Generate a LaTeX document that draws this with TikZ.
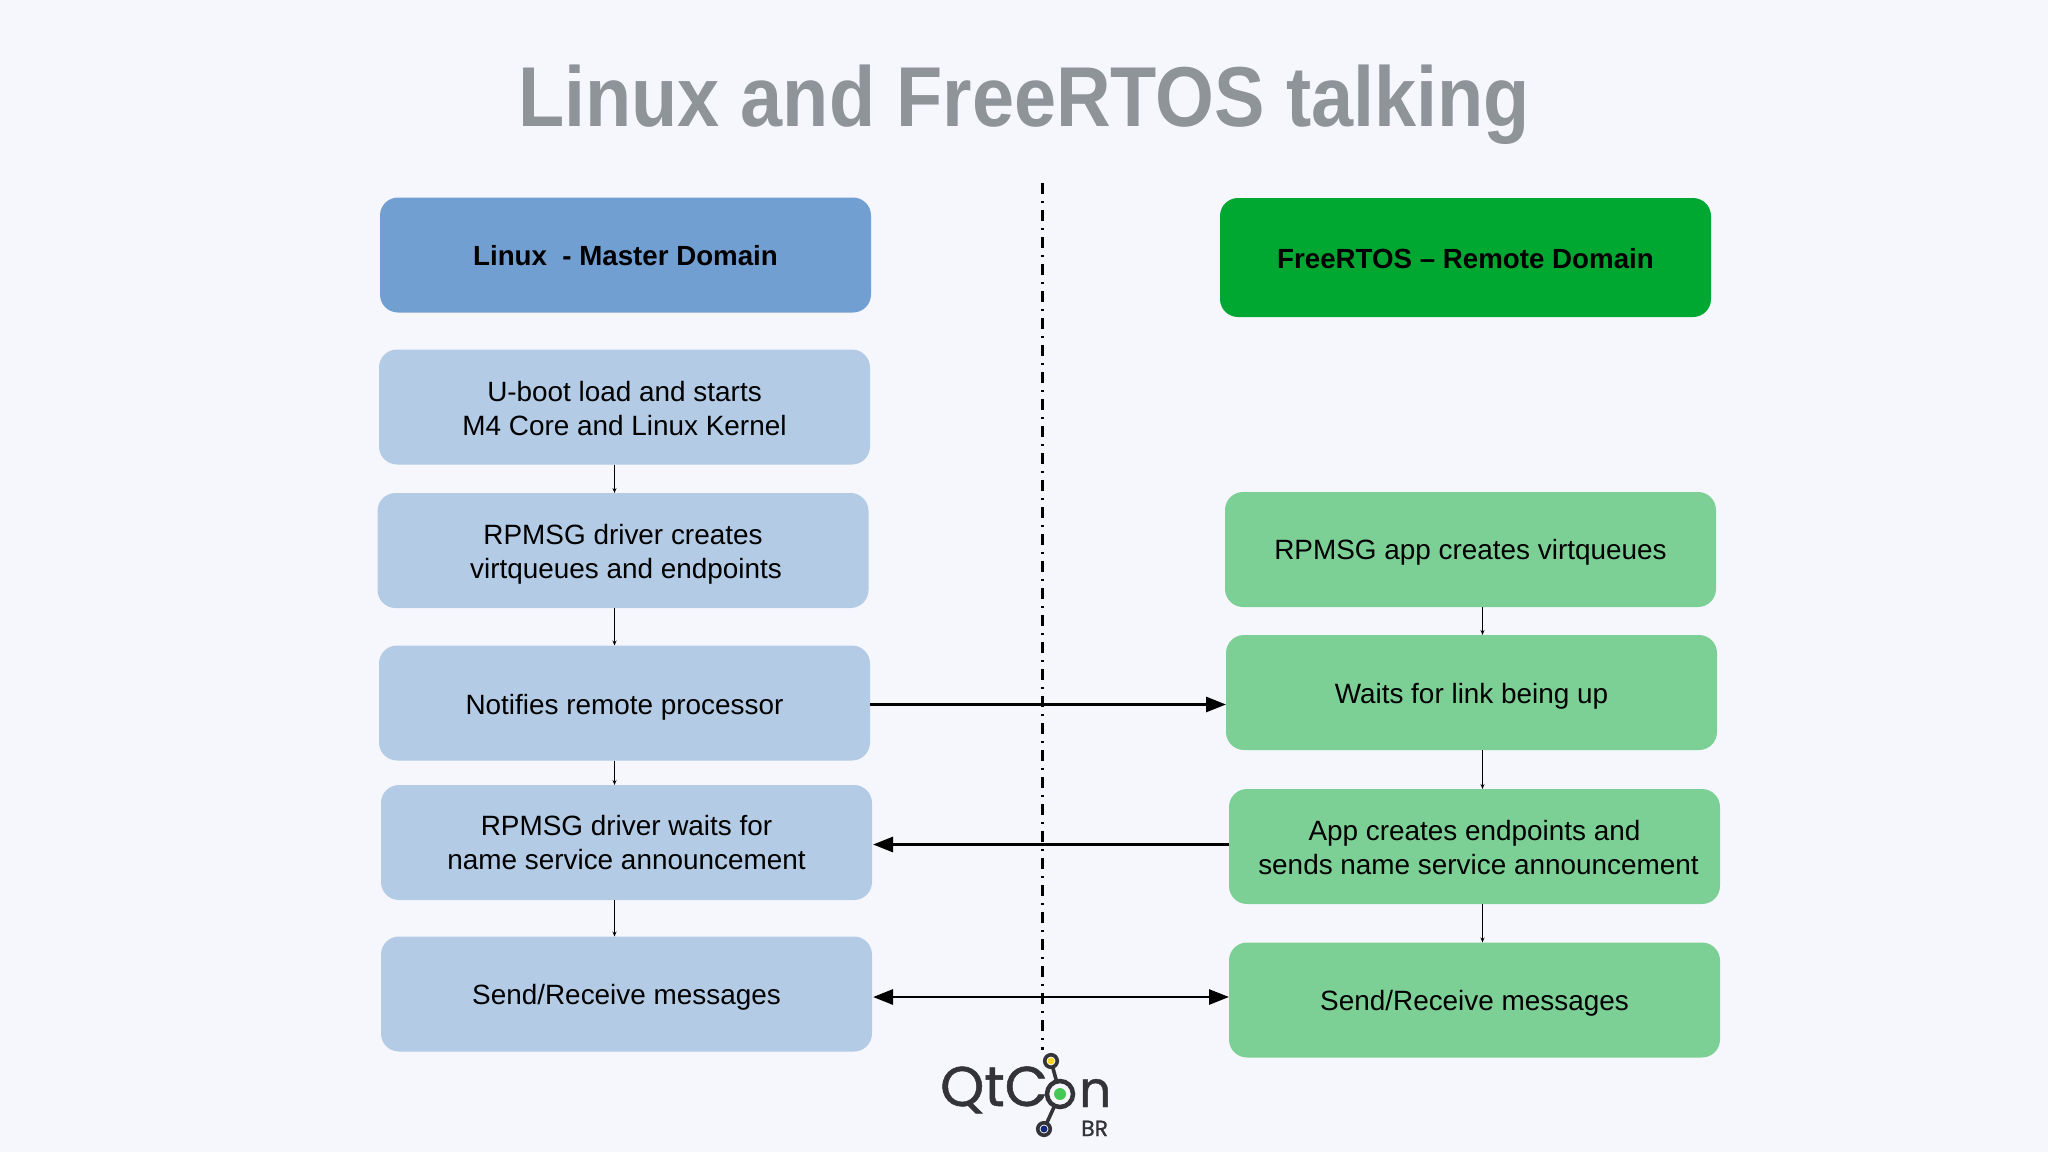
\documentclass[tikz,border=0pt]{standalone}
\usepackage{fontspec}
\setmainfont{Liberation Sans}
\newfontfamily\titlefont[FakeStretch=0.89]{Liberation Sans}
\newfontfamily\logofont[FakeBold=0.9]{Poppins}
\usetikzlibrary{arrows.meta}
\definecolor{pagebg}{RGB}{246,247,253}
\definecolor{titlegray}{RGB}{143,148,153}
\definecolor{linuxhead}{RGB}{114,159,210}
\definecolor{linuxbox}{RGB}{179,203,229}
\definecolor{rtoshead}{RGB}{0,168,50}
\definecolor{rtosbox}{RGB}{125,208,149}
\definecolor{logodark}{RGB}{51,51,56}
\definecolor{logoyellow}{RGB}{248,214,40}
\definecolor{logonavy}{RGB}{20,40,120}
\definecolor{logogreen}{RGB}{70,200,85}
\newcommand{\lowtext}[2][4pt]{\raisebox{-#1}[\height][\depth]{\begin{tabular}{@{}c@{}}#2\end{tabular}}}
\tikzset{
	stagebox/.style={rounded corners=18pt, minimum width=491pt, minimum height=115pt, inner sep=0pt, outer sep=0pt, align=center, text=black, font=\fontsize{27.9}{34}\selectfont},
	headbox/.style={stagebox, font=\fontsize{27.7}{34}\selectfont\bfseries},
	msgline/.style={line width=2.8pt, -{Triangle[length=20pt,width=15pt]}},
	twoline/.style={line width=2.8pt, {Triangle[length=20pt,width=15pt]}-{Triangle[length=20pt,width=15pt]}},
	stepline/.style={line width=0.9pt, -{Stealth[length=5pt,width=4pt]}},
	ring/.style={circle, draw=logodark, line width=3.6pt, fill=pagebg, inner sep=0pt, outer sep=0pt},
	dot/.style={circle, inner sep=0pt, minimum size=7pt}
}
\begin{document}
\begin{tikzpicture}[x=1pt, y=-1pt]
	\fill[pagebg] (0,0) rectangle (2048,1152);
	\useasboundingbox (0,0) rectangle (2048,1152);

	\node[anchor=base, text=titlegray, font=\fontsize{85}{100}\selectfont\titlefont\bfseries] (title) at (1024,126) {Linux and FreeRTOS talking};

	% left column
	\node[headbox, fill=linuxhead] (linuxhdr) at (625.5,255) {\lowtext{Linux\ \ - Master Domain}};
	\node[stagebox, fill=linuxbox] (uboot) at (624.5,407) {\lowtext[4.5pt]{U-boot load and starts\\M4 Core and Linux Kernel}};
	\node[stagebox, fill=linuxbox] (rpdrv) at (623,550.5) {\lowtext{RPMSG driver creates\\\hspace*{6pt}virtqueues and endpoints}};
	\node[stagebox, fill=linuxbox] (notify) at (624.5,703) {\lowtext[4.5pt]{Notifies remote processor}};
	\node[stagebox, fill=linuxbox] (waitns) at (626.5,842.5) {RPMSG driver waits for\\name service announcement};
	\node[stagebox, fill=linuxbox] (sendl) at (626.5,994) {\lowtext[3.3pt]{Send/Receive messages}};

	% right column
	\node[headbox, fill=rtoshead, minimum height=119pt] (rtoshdr) at (1465.5,257.5) {\lowtext{FreeRTOS -- Remote Domain}};
	\node[stagebox, fill=rtosbox] (rpapp) at (1470.5,549.5) {\lowtext[3.3pt]{RPMSG app creates virtqueues}};
	\node[stagebox, fill=rtosbox] (linkup) at (1471.5,692.5) {\lowtext{Waits for link being up}};
	\node[stagebox, fill=rtosbox] (appep) at (1474.5,846.5) {\lowtext{App creates endpoints and\\\hspace*{8pt}sends name service announcement}};
	\node[stagebox, fill=rtosbox] (sendr) at (1474.5,1000) {\lowtext{Send/Receive messages}};

	% centre line and helpers
	\coordinate (midtop) at (1042.5,183);
	\coordinate (midbot) at (1042.5,1050);
	\coordinate (leftx) at (614.5,0);
	\coordinate (rightx) at (1482.5,0);
	\coordinate (goy) at (0,704.5);
	\coordinate (nsy) at (0,844.5);
	\coordinate (bothy) at (0,997);
	\draw[line width=2.5pt, dash pattern=on 11pt off 7pt on 2.2pt off 6.8pt] (midtop) -- (midbot);

	\draw[stepline] (uboot.south -| leftx) -- (rpdrv.north -| leftx);
	\draw[stepline] (rpdrv.south -| leftx) -- (notify.north -| leftx);
	\draw[stepline] (notify.south -| leftx) -- (waitns.north -| leftx);
	\draw[stepline] (waitns.south -| leftx) -- (sendl.north -| leftx);
	\draw[stepline] (rpapp.south -| rightx) -- (linkup.north -| rightx);
	\draw[stepline] (linkup.south -| rightx) -- (appep.north -| rightx);
	\draw[stepline] (appep.south -| rightx) -- (sendr.north -| rightx);

	\draw[msgline] (notify.east |- goy) -- (linkup.west |- goy);
	\draw[msgline] (appep.west |- nsy) -- ([xshift=1pt]waitns.east |- nsy);
	\draw[twoline] ([xshift=1pt]sendl.east |- bothy) -- (sendr.west |- bothy);

	% logo
	\node[anchor=base west, inner sep=0pt, text=logodark, font=\fontsize{56}{60}\logofont] (logoqtc) at (940,1106) {QtC};
	\node[anchor=base west, inner sep=0pt, text=logodark, font=\fontsize{50}{60}\logofont] (logon) at (1079,1107) {n};
	\node[anchor=base west, inner sep=0pt, text=logodark, font=\fontsize{22}{24}\logofont] (logobr) at (1081,1136) {BR};
	\node[ring, minimum size=12.5pt] (logotop) at (1051,1061) {};
	\node[ring, minimum size=12.5pt] (logobot) at (1044,1129) {};
	\node[ring, line width=4.5pt, minimum size=26pt] (logomid) at (1060,1094) {};
	\draw[logodark, line width=3.6pt] (logotop) -- (logomid) -- (logobot);
	\node[dot, fill=logoyellow] (dottop) at (logotop) {};
	\node[dot, fill=logonavy] (dotbot) at (logobot) {};
	\node[dot, fill=logogreen, minimum size=12pt] (dotmid) at (logomid) {};
\end{tikzpicture}
\end{document}
